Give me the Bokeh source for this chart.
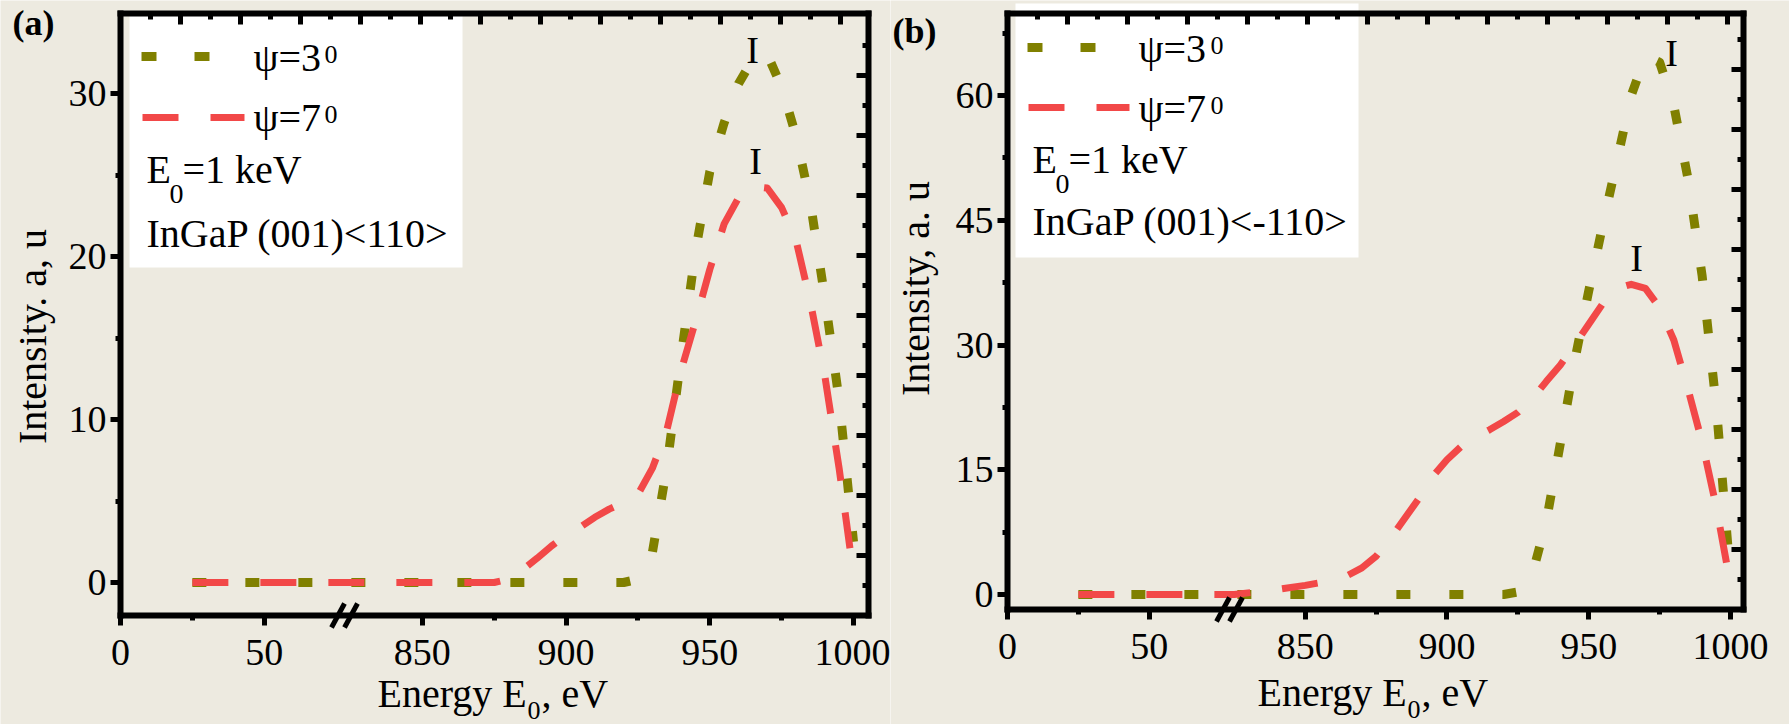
import numpy as np
from bokeh.plotting import figure
from bokeh.models import Range1d, FixedTicker, Label, BoxAnnotation, PolyAnnotation, LinearAxis
from bokeh.layouts import row
from bokeh.embed import file_html
from bokeh.resources import INLINE

# ---------------- data ----------------
tick_values = [0, 50, 850, 900, 950, 1000]
tick_labels = ["0", "50", "850", "900", "950", "1000"]
minor_values = [25, 875, 925, 975]

energy_a = [25, 50, 75, 825, 850, 875, 880, 885, 890, 895, 900, 905, 910, 915, 920,
            925, 930, 935, 940, 945, 950, 955, 960, 965, 970, 975, 980, 985, 990, 995, 1000]
psi3_a = [0, 0, 0, 0, 0, 0, 0, 0, 0, 0, 0, 0, 0, 0, 0,
          0.2, 1.8, 7.0, 13.8, 20.3, 25.2, 28.2, 30.6, 32.1, 32.4, 30.4, 27.4, 23.3, 17.5, 11.2, 2.5]
psi7_a = [0, 0, 0, 0, 0, 0, 0.2, 0.8, 1.5, 2.25, 2.9, 3.4, 4.0, 4.5, 4.9,
          5.4, 7.0, 9.3, 13.0, 16.0, 19.2, 22.0, 23.6, 24.3, 24.2, 23.0, 21.0, 17.2, 12.7, 7.0, 0.5]

energy_b = [25, 50, 75, 825, 840, 850, 860, 865, 870, 875, 880, 885, 890, 895, 900, 905, 910, 915, 920,
            925, 930, 935, 940, 945, 950, 955, 960, 965, 970, 975, 980, 985, 990, 995, 1000]
psi3_b = [0, 0, 0, 0, 0, 0, 0, 0, 0, 0, 0, 0, 0, 0, 0, 0, 0, 0, 0,
          0.3, 2.3, 8.7, 18.2, 28.0, 36.5, 44.5, 52.2, 60.0, 64.8, 64.0, 58.8, 50.0, 38.3, 22.6, 2.0]
psi7_b = [0, 0, 0, 0, 0.6, 1.1, 1.7, 2.3, 3.2, 4.6, 6.7, 9.1, 11.5, 14.2, 16.2, 17.8, 18.9, 19.8, 20.8,
          21.9, 23.5, 25.6, 27.6, 30.0, 32.5, 35.0, 36.8, 37.3, 36.8, 34.5, 30.6, 24.7, 18.3, 10.5, 1.2]

yticks_a = [0, 10, 20, 30]
yminor_a = [5, 15, 25]
yticks_b = [0, 15, 30, 45, 60]
yminor_b = [7.5, 22.5, 37.5, 52.5, 67.5]

BREAK_LO, BREAK_HI = 78, 823   # axis break
OFFSET = BREAK_HI - BREAK_LO


def brk(v):
    return v if v < BREAK_LO + 1 else v - OFFSET


BG = "#EDEAE0"
OLIVE = "#808000"
RED = "#F24848"
FONT = "Liberation Serif"
DESC = 0.216   # descent of the font, in em
H = 724


def make_panel(spec):
    L0, Y0, R, B, T = spec["L0"], spec["Y0"], spec["R"], spec["B"], spec["T"]
    ppx, ppy, ox, W = spec["ppx"], spec["ppy"], spec["ox"], spec["W"]

    def fx(px):
        return (px - L0) / ppx

    def fy(py):
        return (Y0 - py) / ppy

    xs_, xe = 0.0, fx(R)
    ys, ye = fy(B), fy(T)

    p = figure(width=W, height=H, x_range=Range1d(fx(ox), fx(ox + W)), y_range=Range1d(fy(H), fy(0)),
               output_backend="svg", toolbar_location=None,
               x_axis_location=None, y_axis_location=None,
               min_border=0, min_border_left=0, min_border_right=0,
               min_border_top=0, min_border_bottom=0,
               background_fill_color=BG, border_fill_color=BG, outline_line_color=None)
    p.xgrid.visible = False
    p.ygrid.visible = False

    ext_x = 3 / ppx
    ext_y = 3 / ppy
    xt = [brk(v) for v in tick_values]

    def style(ax):
        ax.axis_line_width = 6
        ax.major_tick_line_width = 5
        ax.minor_tick_line_width = 5
        ax.major_tick_out = 10
        ax.major_tick_in = 0
        ax.minor_tick_out = 5
        ax.minor_tick_in = 0
        ax.major_label_text_font = FONT
        ax.major_label_text_font_style = "normal"
        ax.major_label_text_font_size = "38px"
        ax.major_label_text_color = "black"

    bottom = LinearAxis(fixed_location=ys, bounds=(xs_ - ext_x, xe + ext_x),
                        ticker=FixedTicker(ticks=xt, minor_ticks=[brk(v) for v in minor_values]),
                        major_label_overrides={t: s for t, s in zip(xt, tick_labels)})
    style(bottom)
    bottom.major_label_standoff = 14
    p.add_layout(bottom, "below")

    left = LinearAxis(fixed_location=xs_, bounds=(ys - ext_y, ye + ext_y),
                      ticker=FixedTicker(ticks=spec["yt"], minor_ticks=spec["ym"]))
    style(left)
    left.major_label_standoff = 4
    p.add_layout(left, "left")

    # mirror frame edges (top, right) with inward ticks
    p.segment(x0=[xs_ - ext_x, xe], y0=[ye, ys - ext_y], x1=[xe + ext_x, xe], y1=[ye, ye + ext_y],
              line_color="black", line_width=6)
    tx, tl = [], []
    k = 1
    while L0 + 30 * k < R - 4:
        tx.append(fx(L0 + 30 * k))
        tl.append(11 if k % 2 == 0 else 6)
        k += 1
    p.segment(x0=tx, y0=[ye] * len(tx), x1=tx, y1=[ye - l / ppy for l in tl],
              line_color="black", line_width=5)
    ry, rl = [], []
    k = 1
    while B - 30 * k > T + 4:
        ry.append(fy(B - 30 * k))
        rl.append(12 if k % 2 == 0 else 6)
        k += 1
    p.segment(x0=[xe] * len(ry), y0=ry, x1=[xe - l / ppx for l in rl], y1=ry,
              line_color="black", line_width=5)

    # legend box
    lb = spec["box"]
    p.add_layout(BoxAnnotation(left=fx(lb[0]), right=fx(lb[1]), top=fy(lb[2]), bottom=fy(lb[3]),
                               fill_color="white", fill_alpha=1, line_alpha=0, level="underlay"))

    # curves
    ex = [brk(v) for v in spec["energy"]]
    p.line(ex, spec["psi3"], line_color=OLIVE, line_width=9, line_dash="14 39", line_join="round")
    p.line(ex, spec["psi7"], line_color=RED, line_width=7, line_dash="36 32", line_join="round")

    # legend samples
    lg = spec["leg"]
    p.line([fx(lg["ox0"]), fx(lg["ox1"])], [fy(lg["oy"])] * 2, line_color=OLIVE, line_width=9,
           line_dash="15 38")
    p.line([fx(lg["rx0"]), fx(lg["rx1"])], [fy(lg["ry"])] * 2, line_color=RED, line_width=7,
           line_dash="36 32")

    def lab(px, base_py, text, size, **kw):
        # place text by its alphabetic baseline (page pixels)
        p.add_layout(Label(x=fx(px), y=fy(base_py + DESC * size), text=text, text_font=FONT,
                           text_font_size=f"{size}px", text_color="black",
                           text_baseline="bottom", **kw))

    lab(lg["tx"], lg["t1"], "ψ=3", 40)
    lab(lg["sx"], lg["t1"] - 14, "0", 26)
    lab(lg["tx"], lg["t2"], "ψ=7", 40)
    lab(lg["sx"], lg["t2"] - 14, "0", 26)
    lab(lg["ex"], lg["e"], "E", 40)
    lab(lg["ex"] + 23, lg["e"] + 13, "0", 28)
    lab(lg["ex"] + 36, lg["e"], "=1 keV", 40)
    lab(lg["ex"], lg["g"], spec["crystal"], 40)

    # peak markers
    for (px, py) in spec["peaks"]:
        lab(px, py, "I", 38, text_align="center")

    # panel letter
    lab(spec["letter_xy"][0], spec["letter_xy"][1], spec["letter"], 36, text_font_style="bold")

    # axis titles
    p.add_layout(Label(x=fx(spec["ylab"][0]), y=fy(spec["ylab"][1]), text=spec["ytitle"],
                       text_font=FONT, text_font_size="40px", text_color="black",
                       angle=np.pi / 2, text_align="center", text_baseline="middle"))
    xl, xb = spec["xlab"]
    lab(xl, xb, "Energy E", 40)
    lab(xl + 150, xb + 6, "0", 26)
    lab(xl + 164, xb, ", eV", 40)

    # axis break marks
    for cx in spec["brk_px"]:
        p.add_layout(PolyAnnotation(xs=[fx(cx - 6), fx(cx + 7)], ys=[fy(B + 12), fy(B - 12)],
                                    line_color="black", line_alpha=1, line_width=5, fill_alpha=0,
                                    level="overlay"))
    return p


spec_a = dict(L0=120, Y0=582, R=868, B=615, T=13, ppx=733 / 255, ppy=489 / 30, ox=0, W=890,
              yt=yticks_a, ym=yminor_a,
              box=(129, 462, 15, 267), energy=energy_a, psi3=psi3_a, psi7=psi7_a,
              leg=dict(ox0=141, ox1=209, oy=56, rx0=142, rx1=244, ry=117, tx=253, sx=324,
                       t1=71, t2=131, ex=146, e=183, g=247),
              crystal="InGaP (001)<110>", peaks=[(752, 62), (755, 173)],
              letter="(a)", letter_xy=(12, 35), ytitle="Intensity. a, u", ylab=(32, 336),
              xlab=(377, 707), brk_px=[337, 350])

spec_b = dict(L0=1007, Y0=594, R=1743, B=609, T=13, ppx=723 / 255, ppy=499 / 60, ox=890, W=899,
              yt=yticks_b, ym=yminor_b,
              box=(1015, 1358, 3, 257), energy=energy_b, psi3=psi3_b, psi7=psi7_b,
              leg=dict(ox0=1027, ox1=1095, oy=47, rx0=1028, rx1=1129, ry=107, tx=1138, sx=1210,
                       t1=62, t2=122, ex=1032, e=173, g=235),
              crystal="InGaP (001)<-110>", peaks=[(1671, 65), (1636, 270)],
              letter="(b)", letter_xy=(892, 43), ytitle="Intensity, a. u", ylab=(915, 288),
              xlab=(1257, 706), brk_px=[1222, 1235])

pa = make_panel(spec_a)
pb = make_panel(spec_b)
layout = row(pa, pb)

html = file_html(layout, INLINE)
html = html.replace("<body>", '<body style="background-color:#EDEAE0;">', 1)
open("out.html", "w").write(html)
